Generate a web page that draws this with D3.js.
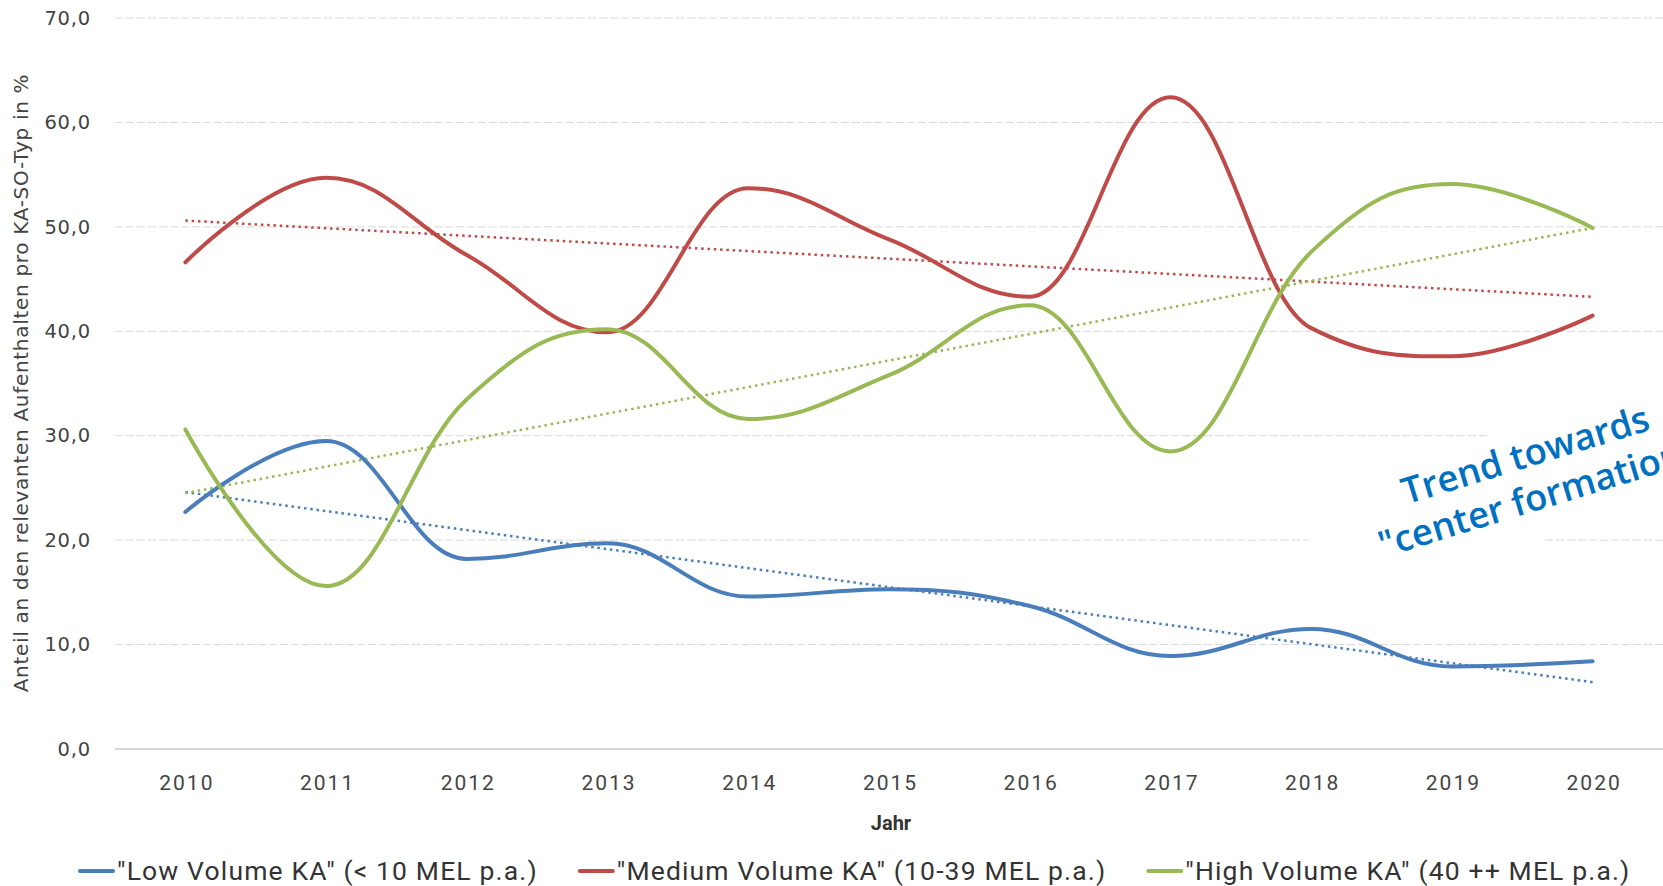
<!DOCTYPE html>
<html>
<head>
<meta charset="utf-8">
<script src="https://cdn.jsdelivr.net/npm/d3@7"></script>
<style>
  html, body { margin: 0; padding: 0; background: #fff; overflow: hidden; }
  svg { display: block; }
</style>
</head>
<body>
<svg id="chart" width="1663" height="886"></svg>
<script>
// Years on the category axis
const years = ["2010", "2011", "2012", "2013", "2014", "2015", "2016", "2017", "2018", "2019", "2020"];

// Share of relevant stays per KA-SO type, in %
const lowVolume    = [22.7, 29.5, 18.2, 19.7, 14.6, 15.3, 13.7, 8.9, 11.5, 7.9, 8.4];
const mediumVolume = [46.6, 54.7, 47.3, 39.9, 53.7, 48.8, 43.3, 62.4, 40.3, 37.6, 41.5];
const highVolume   = [30.6, 15.6, 33.5, 40.2, 31.6, 35.8, 42.5, 28.5, 47.6, 54.1, 49.9];

// Linear trend lines, value at 2010 and at 2020
const lowTrend    = [24.6, 6.4];
const mediumTrend = [50.6, 43.3];
const highTrend   = [24.5, 49.9];

// Axis ticks
const yTicks = [0, 10, 20, 30, 40, 50, 60, 70];

const seriesNames = [
  "\"Low Volume KA\" (< 10 MEL p.a.)",
  "\"Medium Volume KA\" (10-39 MEL p.a.)",
  "\"High Volume KA\" (40 ++ MEL p.a.)"
];
const colors = ["#4a7ebb", "#be4b48", "#98b954"];

const series = [
  { name: seriesNames[0], values: lowVolume, trend: lowTrend, color: colors[0] },
  { name: seriesNames[1], values: mediumVolume, trend: mediumTrend, color: colors[1] },
  { name: seriesNames[2], values: highVolume, trend: highTrend, color: colors[2] }
];

// Spline curve: control points at 1/2.5 of the gap, kept on a straight line
// through each point and clamped so no false extremes appear.
function SplineCurve(context) { this._context = context; }
SplineCurve.prototype = {
  areaStart() { this._line = 0; },
  areaEnd() { this._line = NaN; },
  lineStart() { this._pts = []; },
  point(x, y) { this._pts.push([+x, +y]); },
  lineEnd() {
    const p = this._pts, n = p.length, ctx = this._context;
    if (!n) return;
    const smoothing = 1.5, denom = smoothing + 1;
    ctx.moveTo(p[0][0], p[0][1]);
    let prevRight = null;
    for (let i = 1; i < n; i++) {
      const [px, py] = p[i];
      let lcx = px, lcy = py, rcx = null, rcy = null;
      if (i < n - 1) {
        const [lx, ly] = p[i - 1], [nx, ny] = p[i + 1];
        lcx = (smoothing * px + lx) / denom;
        lcy = (smoothing * py + ly) / denom;
        rcx = (smoothing * px + nx) / denom;
        rcy = (smoothing * py + ny) / denom;
        let corr = 0;
        if (rcx !== lcx) corr = ((rcy - lcy) * (rcx - px)) / (rcx - lcx) + py - rcy;
        lcy += corr; rcy += corr;
        if (lcy > ly && lcy > py) { lcy = Math.max(ly, py); rcy = 2 * py - lcy; }
        else if (lcy < ly && lcy < py) { lcy = Math.min(ly, py); rcy = 2 * py - lcy; }
        if (rcy > ny && rcy > py) { rcy = Math.max(ny, py); lcy = 2 * py - rcy; }
        else if (rcy < ny && rcy < py) { rcy = Math.min(ny, py); lcy = 2 * py - rcy; }
      }
      const a = prevRight || p[i - 1];
      ctx.bezierCurveTo(a[0], a[1], lcx, lcy, px, py);
      prevRight = rcx !== null ? [rcx, rcy] : null;
    }
  }
};
const curveSpline = context => new SplineCurve(context);

const svg = d3.select("#chart");
const plot = { left: 115, right: 1663, top: 18, bottom: 749 };

const x = d3.scalePoint().domain(years).range([plot.left, plot.right]).padding(0.5);
const y = d3.scaleLinear().domain([0, 70]).range([plot.bottom, plot.top]);

const numFmt = v => d3.format(".1f")(v).replace(".", ",");

// Horizontal grid
svg.append("g")
  .selectAll("line")
  .data(yTicks.filter(t => t > 0))
  .join("line")
  .attr("x1", plot.left).attr("x2", plot.right)
  .attr("y1", d => y(d)).attr("y2", d => y(d))
  .attr("stroke", "#d9d9d9")
  .attr("stroke-width", 1)
  .attr("stroke-dasharray", "8,3");

// Baseline
svg.append("line")
  .attr("x1", plot.left).attr("x2", plot.right)
  .attr("y1", y(0)).attr("y2", y(0))
  .attr("stroke", "#d6d6d6").attr("stroke-width", 2);

// Y axis labels
const yAxis = d3.axisLeft(y).tickValues(yTicks).tickFormat(numFmt).tickSize(0).tickPadding(0);
const yAxisG = svg.append("g").attr("transform", "translate(91,0)").call(yAxis);
yAxisG.select(".domain").remove();
yAxisG.selectAll("text")
  .attr("font-family", "'DejaVu Sans', Verdana, sans-serif")
  .attr("font-size", 19.5)
  .attr("letter-spacing", 0.8)
  .attr("fill", "#444");

// X axis labels
const xAxis = d3.axisBottom(x).tickSize(0).tickPadding(0);
const xAxisG = svg.append("g").attr("transform", `translate(1,${y(0)})`).call(xAxis);
xAxisG.select(".domain").remove();
xAxisG.selectAll("text")
  .attr("dy", null)
  .attr("y", 41)
  .attr("font-family", "Roboto, 'Noto Sans', sans-serif")
  .attr("font-size", 21)
  .attr("letter-spacing", 2)
  .attr("fill", "#444");

// Axis titles
svg.append("text")
  .attr("x", 891).attr("y", 830)
  .attr("text-anchor", "middle")
  .attr("font-family", "Roboto, sans-serif")
  .attr("font-weight", "bold")
  .attr("font-size", 20)
  .attr("fill", "#333")
  .text("Jahr");

svg.append("text")
  .attr("transform", "translate(28,383) rotate(-90)")
  .attr("text-anchor", "middle")
  .attr("font-family", "'DejaVu Sans', Verdana, sans-serif")
  .attr("font-size", 20)
  .attr("letter-spacing", 0.7)
  .attr("fill", "#444")
  .text("Anteil an den relevanten Aufenthalten pro KA-SO-Typ in %");

// Dotted trend lines
const trendLine = d3.line()
  .x((d, i) => x(i === 0 ? years[0] : years[years.length - 1]))
  .y(d => y(d));

svg.append("g")
  .selectAll("path")
  .data(series)
  .join("path")
  .attr("d", d => trendLine(d.trend))
  .attr("fill", "none")
  .attr("stroke", d => d.color)
  .attr("stroke-width", 2.5)
  .attr("stroke-dasharray", "2.5,3.8");

// Smoothed series lines
const line = d3.line()
  .x((d, i) => x(years[i]))
  .y(d => y(d))
  .curve(curveSpline);

svg.append("g")
  .selectAll("path")
  .data(series)
  .join("path")
  .attr("d", d => line(d.values))
  .attr("fill", "none")
  .attr("stroke", d => d.color)
  .attr("stroke-width", 4)
  .attr("stroke-linecap", "round")
  .attr("stroke-linejoin", "round");

// Annotation
const note = svg.append("g").attr("transform", "translate(1529,467) rotate(-17)");
note.append("rect")
  .attr("x", -232).attr("y", -42)
  .attr("width", 470).attr("height", 116)
  .attr("fill", "#fff");
note.selectAll("text")
  .data(["Trend towards", "\"center formation\""])
  .join("text")
  .attr("x", 0)
  .attr("y", (d, i) => i * 44)
  .attr("text-anchor", "middle")
  .attr("font-family", "'Open Sans', 'Noto Sans', sans-serif")
  .attr("font-weight", 600)
  .attr("font-size", 36.5)
  .attr("fill", "#0070c0")
  .text(d => d);

// Legend
const legend = svg.append("g").attr("transform", "translate(0,871)");
let lx = 78;
series.forEach(s => {
  legend.append("line")
    .attr("x1", lx + 2).attr("x2", lx + 35)
    .attr("y1", 0).attr("y2", 0)
    .attr("stroke", s.color)
    .attr("stroke-width", 4)
    .attr("stroke-linecap", "round");
  const t = legend.append("text")
    .attr("x", lx + 39)
    .attr("y", 9)
    .attr("font-family", "Roboto, 'Noto Sans', sans-serif")
    .attr("font-size", 26.5)
    .attr("letter-spacing", 1.15)
    .attr("fill", "#333")
    .text(s.name);
  lx += 39 + t.node().getComputedTextLength() + 40;
});
</script>
</body>
</html>
